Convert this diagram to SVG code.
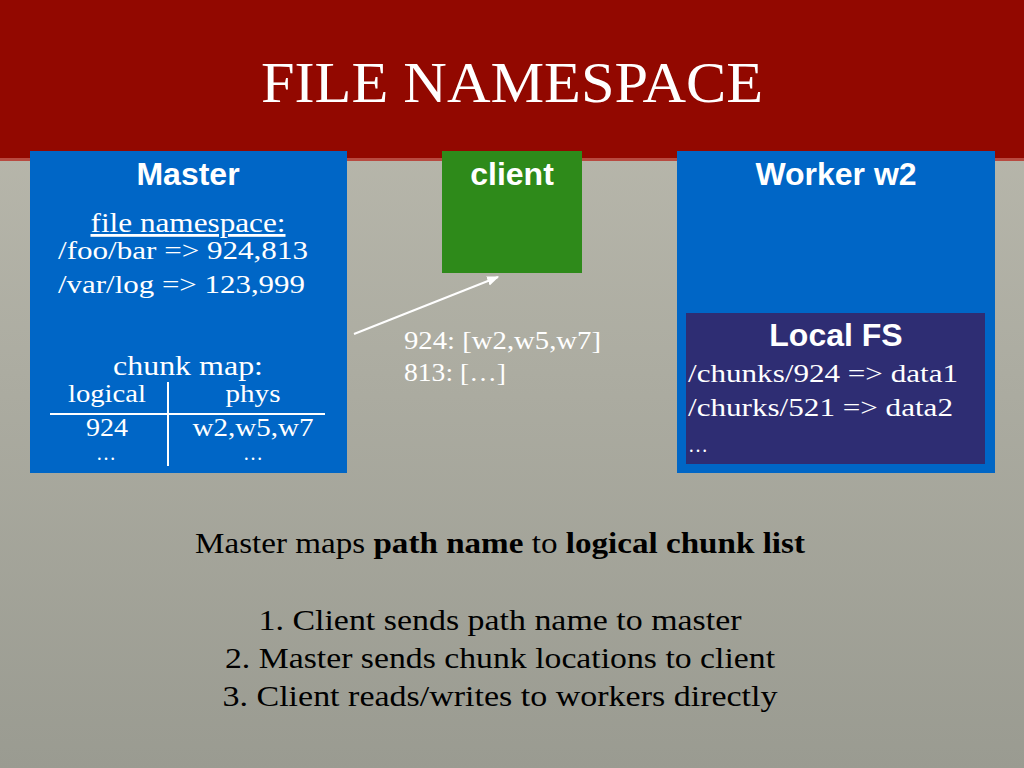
<svg xmlns="http://www.w3.org/2000/svg" width="1024" height="768" viewBox="0 0 1024 768">
<defs>
<linearGradient id="bg" x1="0" y1="0" x2="0" y2="1"><stop offset="0" stop-color="#bdbcb0"/><stop offset="1" stop-color="#9a9b91"/></linearGradient>
<marker id="ah" viewBox="0 0 10 10" refX="9" refY="5" markerWidth="6" markerHeight="6" orient="auto"><path d="M0,1 L10,5 L0,9 z" fill="#fff"/></marker>
</defs>
<style>
.s{font-family:"Liberation Serif",serif;fill:#fff}
.h{font-family:"Liberation Sans",Arial,sans-serif;font-weight:bold;fill:#fff;font-size:32px;text-anchor:middle}
.b{font-family:"Liberation Serif",serif;fill:#000;font-size:29px;text-anchor:middle}
</style>
<rect width="1024" height="768" fill="url(#bg)"/>
<rect width="1024" height="160" fill="#920800"/>
<rect y="158" width="1024" height="3" fill="#b84a40"/>
<text x="512" y="102" class="s" font-size="58" text-anchor="middle" textLength="502" lengthAdjust="spacingAndGlyphs">FILE NAMESPACE</text>
<g id="master">
<rect x="30" y="151" width="317" height="322" fill="#0066c6"/>
<text x="188" y="185" class="h">Master</text>
<text x="188" y="232" class="s" font-size="28" text-anchor="middle" text-decoration="underline" textLength="195" lengthAdjust="spacingAndGlyphs">file namespace:</text>
<text x="58" y="259" class="s" font-size="26" textLength="250" lengthAdjust="spacingAndGlyphs">/foo/bar =&gt; 924,813</text>
<text x="58" y="293" class="s" font-size="26" textLength="247" lengthAdjust="spacingAndGlyphs">/var/log =&gt; 123,999</text>
<text x="188" y="375" class="s" font-size="28" text-anchor="middle" textLength="150" lengthAdjust="spacingAndGlyphs">chunk map:</text>
<text x="107" y="402" class="s" font-size="26" text-anchor="middle" textLength="78" lengthAdjust="spacingAndGlyphs">logical</text>
<text x="253" y="402" class="s" font-size="26" text-anchor="middle" textLength="55" lengthAdjust="spacingAndGlyphs">phys</text>
<text x="107" y="436" class="s" font-size="26" text-anchor="middle" textLength="42" lengthAdjust="spacingAndGlyphs">924</text>
<text x="253" y="436" class="s" font-size="26" text-anchor="middle" textLength="121" lengthAdjust="spacingAndGlyphs">w2,w5,w7</text>
<text x="106" y="460" class="s" font-size="20" text-anchor="middle">…</text>
<text x="253" y="460" class="s" font-size="20" text-anchor="middle">…</text>
<line x1="168" y1="382" x2="168" y2="466" stroke="#fff" stroke-width="2"/>
<line x1="50" y1="414" x2="325" y2="414" stroke="#fff" stroke-width="2"/>
</g>
<g id="client">
<rect x="442" y="151" width="140" height="122" fill="#2e8a1a"/>
<text x="512" y="185" class="h">client</text>
</g>
<g id="worker">
<rect x="677" y="151" width="318" height="322" fill="#0066c6"/>
<text x="836" y="185" class="h">Worker w2</text>
<rect x="686" y="313" width="299" height="151" fill="#2e2d73"/>
<text x="836" y="346" class="h">Local FS</text>
<text x="688" y="382" class="s" font-size="26" textLength="270" lengthAdjust="spacingAndGlyphs">/chunks/924 =&gt; data1</text>
<text x="688" y="416" class="s" font-size="26" textLength="265" lengthAdjust="spacingAndGlyphs">/churks/521 =&gt; data2</text>
<text x="688" y="452" class="s" font-size="20">…</text>
</g>
<g id="connectors">
<line x1="354" y1="334" x2="498" y2="277" stroke="#fff" stroke-width="2" marker-end="url(#ah)"/>
</g>
<text x="404" y="349" class="s" font-size="26" textLength="197" lengthAdjust="spacingAndGlyphs">924: [w2,w5,w7]</text>
<text x="404" y="381" class="s" font-size="26" textLength="102" lengthAdjust="spacingAndGlyphs">813: […]</text>
<text x="500" y="553" class="b" textLength="610" lengthAdjust="spacingAndGlyphs">Master maps <tspan font-weight="bold">path name</tspan> to <tspan font-weight="bold">logical chunk list</tspan></text>
<text x="500" y="630" class="b" textLength="483" lengthAdjust="spacingAndGlyphs">1. Client sends path name to master</text>
<text x="500" y="668" class="b" textLength="550" lengthAdjust="spacingAndGlyphs">2. Master sends chunk locations to client</text>
<text x="500" y="706" class="b" textLength="555" lengthAdjust="spacingAndGlyphs">3. Client reads/writes to workers directly</text>
</svg>
